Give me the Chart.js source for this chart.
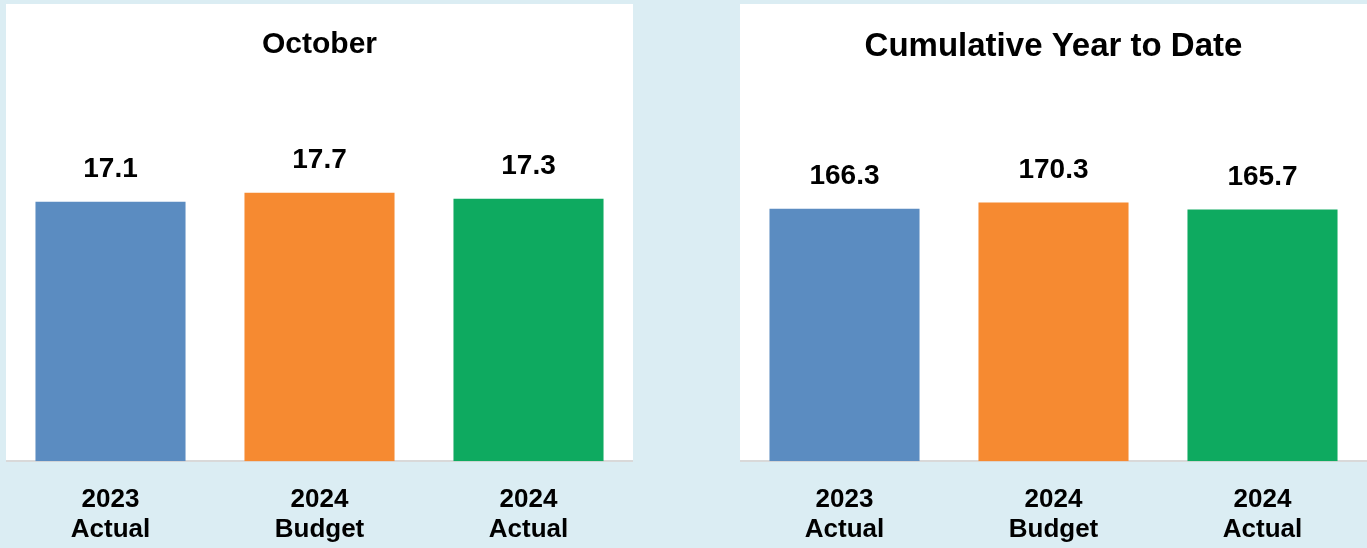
<!DOCTYPE html>
<html>
<head>
<meta charset="utf-8">
<script src="https://cdn.jsdelivr.net/npm/chart.js@4"></script>
<style>
  html, body { margin: 0; padding: 0; }
  body { width: 1367px; height: 548px; background: #dbedf3; position: relative; overflow: hidden; }
  .panel { position: absolute; top: 4px; width: 627px; height: 457px; background: #fff; }
  .box { position: absolute; top: 0; width: 627px; height: 574px; }
</style>
</head>
<body>
<div class="panel" style="left:6px"></div>
<div class="panel" style="left:740px"></div>
<div class="box" style="left:6px"><canvas id="month"></canvas></div>
<div class="box" style="left:740px"><canvas id="ytd"></canvas></div>
<script>
// categorias y valores
const categories = [["2023", "Actual"], ["2024", "Budget"], ["2024", "Actual"]];
const octoberValues = [17.1, 17.7, 17.3];
const ytdValues = [166.3, 170.3, 165.7];
const barColors = ["#5b8cc1", "#f68a31", "#0eaa60"];

const FONT = "'Liberation Sans', Arial, sans-serif";
Chart.defaults.color = "#000";
Chart.defaults.font.family = FONT;

// etiquetas encima de cada barra
const valueLabels = {
  id: "valueLabels",
  afterDatasetsDraw(chart) {
    const ctx = chart.ctx;
    const meta = chart.getDatasetMeta(0);
    ctx.save();
    ctx.font = "bold 28px " + FONT;
    ctx.fillStyle = "#000";
    ctx.textAlign = "center";
    ctx.textBaseline = "alphabetic";
    meta.data.forEach((bar, i) => {
      ctx.fillText(chart.data.datasets[0].data[i].toFixed(1), bar.x, bar.y - 25);
    });
    ctx.restore();
  }
};

function makeChart(id, title, values, max, titleSize, titleBottom) {
  const ctx = document.getElementById(id).getContext("2d");
  return new Chart(ctx, {
    type: "bar",
    data: {
      labels: categories,
      datasets: [{
        data: values,
        backgroundColor: barColors,
        borderWidth: 0,
        barPercentage: 0.718,
        categoryPercentage: 1
      }]
    },
    options: {
      responsive: false,
      animation: false,
      layout: { padding: { top: 0, bottom: 5, left: 0, right: 0 } },
      plugins: {
        legend: { display: false },
        tooltip: { enabled: false },
        title: {
          display: true,
          text: title,
          font: { size: titleSize, weight: "bold" },
          padding: { top: 27, bottom: titleBottom }
        }
      },
      scales: {
        x: {
          grid: { display: false, drawTicks: false },
          border: { display: true, color: "#d9d9d9", width: 2 },
          ticks: {
            font: { size: 26, weight: "bold", lineHeight: 1.15 },
            padding: 24,
            maxRotation: 0
          }
        },
        y: { display: false, min: 0, max: max }
      }
    },
    plugins: [valueLabels]
  });
}

["month", "ytd"].forEach(id => {
  document.getElementById(id).width = 627;
  document.getElementById(id).height = 574;
});

makeChart("month", "October", octoberValues, 25, 30, 19);
makeChart("ytd", "Cumulative Year to Date", ytdValues, 250, 33, 15);
</script>
</body>
</html>
